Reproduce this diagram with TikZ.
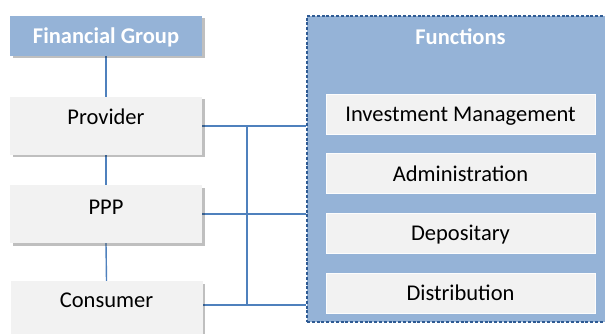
\documentclass[tikz,border=0pt]{standalone}
\usepackage{fontspec}
\setmainfont{Carlito}
\usetikzlibrary{shadows,backgrounds}
\definecolor{hdrblue}{HTML}{95B3D7}
\definecolor{boxgray}{HTML}{F2F2F2}
\definecolor{connblue}{HTML}{4F81BD}
\definecolor{dashblue}{HTML}{2F5B94}
\tikzset{
  shad/.style={drop shadow={shadow xshift=2.5pt, shadow yshift=-2.5pt, fill=black, opacity=0.25}},
  hdrbox/.style={shape=rectangle, fill=hdrblue, minimum width=192pt, minimum height=40pt, inner sep=0pt, text height=15pt, text depth=0pt, text=white, font=\fontsize{22.5}{27}\selectfont\bfseries, shad},
  leftbox/.style={shape=rectangle, fill=boxgray, minimum width=192pt, minimum height=58pt, inner sep=0pt, shad},
  lbl/.style={inner sep=0pt, text height=15pt, text depth=0pt, font=\fontsize{22.5}{27}\selectfont},
  funcbox/.style={shape=rectangle, fill=hdrblue, draw=dashblue, dash pattern=on 3pt off 1.8pt, line width=1.3pt, minimum width=307pt, minimum height=306pt, inner sep=0pt},
  itembox/.style={shape=rectangle, fill=boxgray, draw=white!85!boxgray, line width=0.6pt, minimum width=269pt, minimum height=40pt, inner sep=0pt, text height=15pt, text depth=0pt, font=\fontsize{22.5}{27}\selectfont},
  conn/.style={draw=connblue, line width=1.4pt}
}
\begin{document}
\begin{tikzpicture}[x=1pt,y=-1pt]
\useasboundingbox (0,0) rectangle (605,334);
\clip (0,0) rectangle (605,334);
% right: functions panel
\node[funcbox] (func) at (460.5,169) {};
\node[lbl, text=white, font=\fontsize{22.5}{27}\selectfont\bfseries] (functitle) at (460.5,37) {Functions};
\node[itembox] (inv) at (460.5,114) {Investment Management};
\node[itembox] (adm) at (460.5,173.5) {Administration};
\node[itembox] (dep) at (460.5,233) {Depositary};
\node[itembox] (dis) at (460.5,293) {Distribution};
% left column
\node[hdrbox] (fg) at (106,36) {Financial Group};
\node[leftbox] (prov) at (106,126) {};
\node[lbl] (provt) at (106,117) {Provider};
\node[leftbox] (ppp) at (106,214) {};
\node[lbl] (pppt) at (106,207) {PPP};
\node[leftbox] (cons) at (106.5,310) {};
\node[lbl] (const) at (106.5,300) {Consumer};
\coordinate (bus) at (247,0);
\begin{pgfonlayer}{background}
\draw[conn] (fg.south) -- (prov.north);
\draw[conn] (prov.south) -- (ppp.north);
\draw[conn] (ppp.south) -- (cons.north);
\draw[conn] (prov.east) -- (prov.east -| func.west);
\draw[conn] (ppp.east) -- (ppp.east -| func.west);
\draw[conn] ([yshift=5pt]cons.east) -- ([yshift=5pt]cons.east -| func.west);
\draw[conn] (prov.east -| bus) -- ([yshift=5pt]cons.east -| bus);
\end{pgfonlayer}
\end{tikzpicture}
\end{document}
